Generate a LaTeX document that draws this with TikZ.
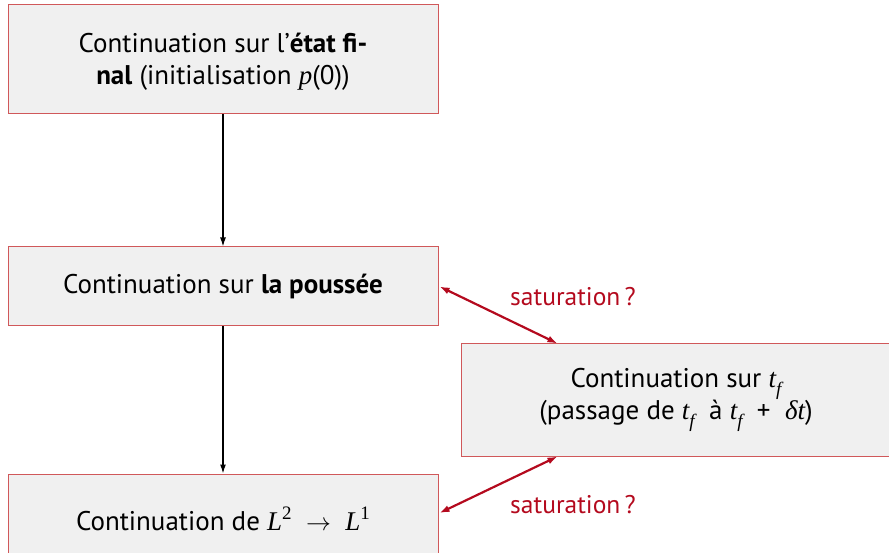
\documentclass[tikz,border=0pt]{standalone}
\usepackage{fontspec}
\setmainfont{PT Sans}
\newfontfamily\mathitfont{Liberation Serif}
\usetikzlibrary{arrows.meta,calc}
\definecolor{boxfill}{HTML}{F0F0F0}
\definecolor{boxline}{HTML}{D0585A}
\definecolor{arrred}{HTML}{B40A1E}
\newcommand{\mi}[1]{{\mathitfont\itshape #1}}
\newcommand{\msub}[1]{\raisebox{-0.28em}{\fontsize{19}{19}\selectfont\mi{#1}}}
\newcommand{\msup}[1]{\raisebox{0.42em}{\fontsize{19}{19}\selectfont\mathitfont #1}}
\begin{document}
\begin{tikzpicture}[x=1pt,y=-1pt,
  boxnode/.style={draw=boxline,line width=1pt,fill=boxfill,rectangle,minimum width=430pt,align=center,inner sep=0pt,font=\fontsize{27}{32}\selectfont},
  blackarr/.style={-{Latex[length=9pt,width=6pt]},line width=1.3pt,black},
  redarr/.style={{Latex[length=10pt,width=7pt]}-{Latex[length=10pt,width=7pt]},line width=2.2pt,arrred},
  satlabel/.style={text=arrred,font=\fontsize{25.5}{28}\selectfont,inner sep=0pt}]
\useasboundingbox (0,0) rectangle (889,553);
\clip (0,0) rectangle (889,553);
\node[boxnode,minimum height=109pt] (b1) at (223,59.5) {};
\node[align=center,inner sep=0pt,font=\fontsize{27}{32}\selectfont] (t1) at (223,62) {Continuation sur l’\textbf{état fi-}\\\textbf{nal} (initialisation \mi{p}(0))};
\node[boxnode,minimum height=79pt] (b2) at (223,286.5) {Continuation sur \textbf{la poussée}};
\node[boxnode,minimum height=90pt] (b3) at (223,519) {Continuation de \mi{L}\msup{2}\ \ $\rightarrow$\ \ \mi{L}\msup{1}};
\node[boxnode,minimum height=112pt] (b4) at (676,400) {Continuation sur \mi{t}\msub{f}\\(passage de \mi{t}\msub{f}\ \ à \mi{t}\msub{f}\ \ +\ \ \mi{δt})};
\coordinate (r1) at ($(b4.north west)+(97,0)$);
\coordinate (r2) at ($(b4.south west)+(97,0)$);
\coordinate (e2) at ($(b2.east)+(1,0)$);
\coordinate (e3) at ($(b3.east)+(1,-6)$);
\draw[blackarr] (b1.south) -- (b2.north);
\draw[blackarr] (b2.south) -- (b3.north);
\draw[redarr] (e2) -- (r1);
\draw[redarr] (r2) -- (e3);
\node[satlabel] (s1) at (573,297) {saturation\,?};
\node[satlabel] (s2) at (573,505) {saturation\,?};
\end{tikzpicture}
\end{document}
